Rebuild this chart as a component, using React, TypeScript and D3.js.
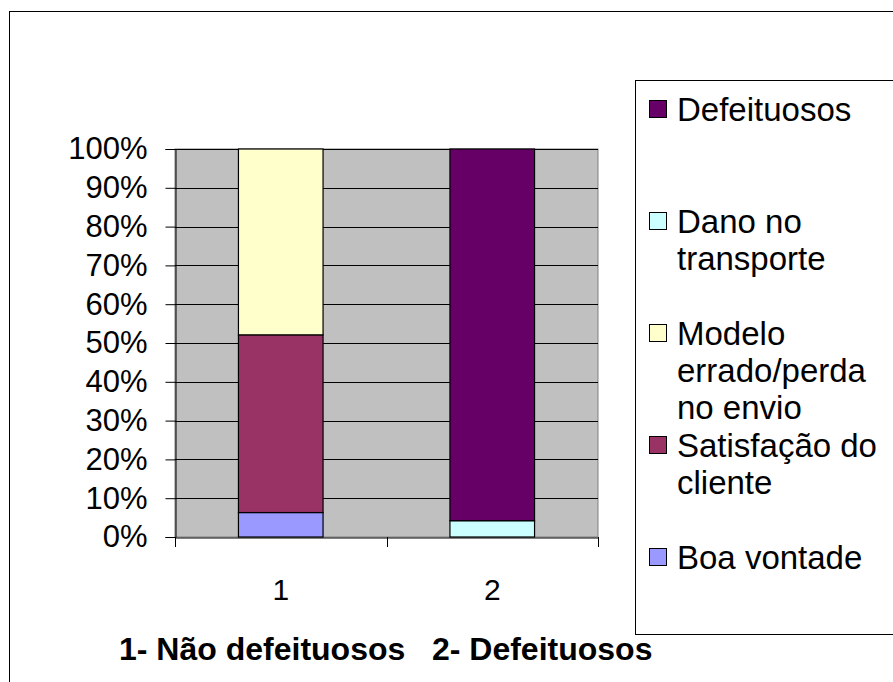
import React, { useEffect, useRef } from 'react';
import * as d3 from 'd3';

const categories = ['1', '2'];
const boaVontade = [6.3, 0];
const satisfacao = [45.8, 0];
const modeloErrado = [47.9, 0];
const danoTransporte = [0, 4.2];
const defeituosos = [0, 95.8];
const seriesColors = ['#9999FF', '#993366', '#FFFFCC', '#CCFFFF', '#660066'];
const legendLines = [
  ['Defeituosos'],
  ['Dano no', 'transporte'],
  ['Modelo', 'errado/perda', 'no envio'],
  ['Satisfação do', 'cliente'],
  ['Boa vontade'],
];
const yTicks = [0, 10, 20, 30, 40, 50, 60, 70, 80, 90, 100];
const footnote = '1- Não defeituosos   2- Defeituosos';

const FONT = 'Liberation Sans, Arial, sans-serif';

export default function App() {
  const svgRef = useRef<SVGSVGElement>(null);

  useEffect(() => {
    if (!svgRef.current) return;
    const width = 893;
    const height = 682;
    const plot = { left: 175, top: 149, right: 598, bottom: 537 };

    const svg = d3.select(svgRef.current);
    svg.selectAll('*').remove();

    svg.append('rect')
      .attr('x', 9.5).attr('y', 11.5)
      .attr('width', width).attr('height', height)
      .attr('fill', '#fff').attr('stroke', '#000');

    const x = d3.scaleBand<string>().domain(categories).range([plot.left, plot.right]).paddingInner(0.6).paddingOuter(0.3);
    const xOuter = d3.scaleBand<string>().domain(categories).range([plot.left, plot.right]);
    const y = d3.scaleLinear().domain([0, 100]).range([plot.bottom, plot.top]);

    svg.append('rect')
      .attr('x', plot.left).attr('y', plot.top)
      .attr('width', plot.right - plot.left).attr('height', plot.bottom - plot.top)
      .attr('fill', '#C0C0C0').attr('stroke', '#808080');

    // gridlines
    svg.append('g').selectAll('line')
      .data(yTicks.slice(1))
      .enter().append('line')
      .attr('x1', plot.left).attr('x2', plot.right)
      .attr('y1', d => Math.round(y(d)) + 0.5).attr('y2', d => Math.round(y(d)) + 0.5)
      .attr('stroke', '#000');

    // stacked bars
    const rows = categories.map((c, i) => ({
      cat: c,
      s0: boaVontade[i], s1: satisfacao[i], s2: modeloErrado[i], s3: danoTransporte[i], s4: defeituosos[i],
    }));
    const layers = d3.stack<any>().keys(['s0', 's1', 's2', 's3', 's4'])(rows);

    svg.append('g').selectAll('g')
      .data(layers)
      .enter().append('g')
      .attr('fill', (_, i) => seriesColors[i])
      .selectAll('rect')
      .data(d => d.filter(p => p[1] - p[0] > 0))
      .enter().append('rect')
      .attr('x', (d: any) => x(d.data.cat)!)
      .attr('width', x.bandwidth())
      .attr('y', d => y(d[1]))
      .attr('height', d => y(d[0]) - y(d[1]))
      .attr('stroke', '#000')
      .attr('stroke-width', 1.2);

    // y axis
    const yAxis = svg.append('g')
      .attr('transform', `translate(${plot.left + 0.5},0)`)
      .call(d3.axisLeft(y).tickValues(yTicks).tickSize(10).tickPadding(18).tickFormat(d => `${d}%`));
    yAxis.selectAll('text').attr('font-family', FONT).attr('font-size', 31).attr('fill', '#000');
    yAxis.selectAll('line,path').attr('stroke', '#000');

    // x axis
    const xAxis = svg.append('g')
      .attr('transform', `translate(0,${plot.bottom + 0.5})`)
      .call(d3.axisBottom(xOuter).tickSize(0).tickPadding(41).tickSizeOuter(0));
    xAxis.select('.domain').attr('stroke', '#000');
    xAxis.selectAll('text').attr('font-family', FONT).attr('font-size', 30).attr('fill', '#000').attr('dy', '0.71em');
    svg.append('g').selectAll('line')
      .data([plot.left, xOuter('2')!, plot.right])
      .enter().append('line')
      .attr('x1', d => Math.round(d) + 0.5).attr('x2', d => Math.round(d) + 0.5)
      .attr('y1', plot.bottom).attr('y2', plot.bottom + 10)
      .attr('stroke', '#000');

    // legend
    const legendLeft = 635;
    svg.append('rect')
      .attr('x', legendLeft + 0.5).attr('y', 80.5)
      .attr('width', 300).attr('height', 554)
      .attr('fill', '#fff').attr('stroke', '#000');
    const ly = d3.scalePoint<number>().domain(d3.range(legendLines.length)).range([109, 557]);
    const legendColors = seriesColors.slice().reverse();
    const items = svg.append('g').selectAll('g')
      .data(legendLines)
      .enter().append('g')
      .attr('transform', (_, i) => `translate(${legendLeft},${ly(i)})`);
    items.append('rect')
      .attr('x', 14.5).attr('y', -8.5).attr('width', 17).attr('height', 17)
      .attr('fill', (_, i) => legendColors[i]).attr('stroke', '#000');
    items.each(function (lines) {
      const t = d3.select(this).append('text')
        .attr('font-family', FONT).attr('font-size', 33).attr('fill', '#000');
      lines.forEach((ln, k) => {
        t.append('tspan').attr('x', 42).attr('y', k * 37).attr('dy', '0.36em').text(ln);
      });
    });

    // footnote
    svg.append('text')
      .attr('x', 119).attr('y', 660)
      .attr('font-family', FONT).attr('font-size', 32).attr('font-weight', 'bold')
      .attr('fill', '#000')
      .style('white-space', 'pre')
      .text(footnote);
  }, []);

  return (
    <svg ref={svgRef} width={893} height={682} style={{ position: 'absolute', left: 0, top: 0 }} />
  );
}
